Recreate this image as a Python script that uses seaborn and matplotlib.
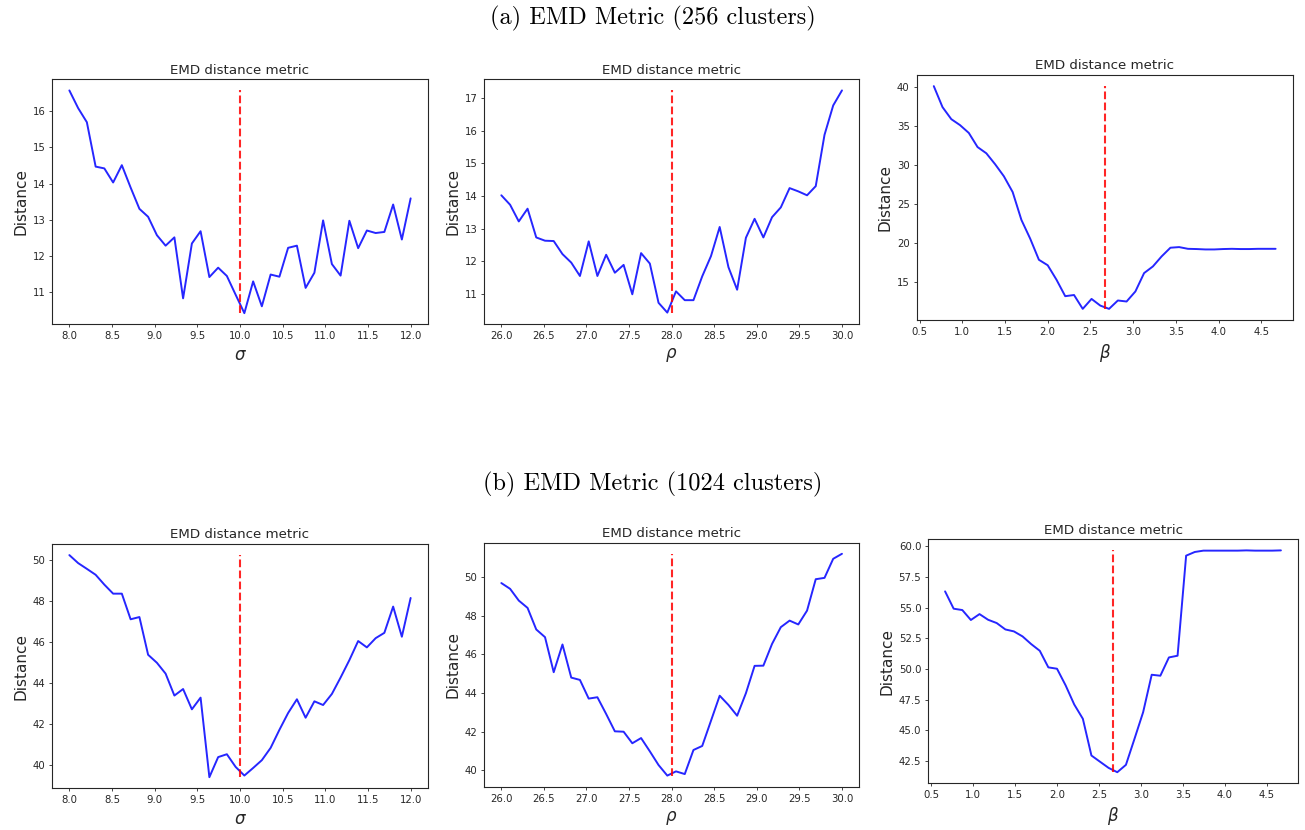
import matplotlib
matplotlib.use("Agg")
import matplotlib.pyplot as plt
import seaborn as sns
import numpy as np

# ---------------- data ----------------
sigma_vals = [8.000, 8.103, 8.205, 8.308, 8.410, 8.513, 8.615, 8.718, 8.821, 8.923,
              9.026, 9.128, 9.231, 9.333, 9.436, 9.538, 9.641, 9.744, 9.846, 9.949,
              10.051, 10.154, 10.256, 10.359, 10.462, 10.564, 10.667, 10.769, 10.872, 10.974,
              11.077, 11.179, 11.282, 11.385, 11.487, 11.590, 11.692, 11.795, 11.897, 12.000]
rho_vals = [26.000, 26.103, 26.205, 26.308, 26.410, 26.513, 26.615, 26.718, 26.821, 26.923,
            27.026, 27.128, 27.231, 27.333, 27.436, 27.538, 27.641, 27.744, 27.846, 27.949,
            28.051, 28.154, 28.256, 28.359, 28.462, 28.564, 28.667, 28.769, 28.872, 28.974,
            29.077, 29.179, 29.282, 29.385, 29.487, 29.590, 29.692, 29.795, 29.897, 30.000]
beta_vals = [0.667, 0.769, 0.872, 0.974, 1.077, 1.179, 1.282, 1.385, 1.487, 1.590,
             1.692, 1.795, 1.897, 2.000, 2.103, 2.205, 2.308, 2.410, 2.513, 2.615,
             2.718, 2.821, 2.923, 3.026, 3.128, 3.231, 3.333, 3.436, 3.538, 3.641,
             3.744, 3.846, 3.949, 4.051, 4.154, 4.256, 4.359, 4.462, 4.564, 4.667]

true_sigma = 10.0
true_rho = 28.0
true_beta = 2.667

# 256 clusters
emd256_sigma = [16.58, 16.09, 15.70, 14.47, 14.42, 14.03, 14.51, 13.89, 13.30, 13.08,
                12.57, 12.28, 12.51, 10.82, 12.34, 12.68, 11.41, 11.67, 11.44, 10.92,
                10.41, 11.29, 10.60, 11.48, 11.42, 12.22, 12.28, 11.11, 11.53, 12.98,
                11.77, 11.45, 12.97, 12.21, 12.70, 12.63, 12.66, 13.42, 12.45, 13.59]
emd256_rho = [14.02, 13.73, 13.22, 13.61, 12.73, 12.63, 12.62, 12.22, 11.96, 11.55,
              12.61, 11.55, 12.20, 11.65, 11.89, 10.99, 12.25, 11.93, 10.73, 10.43,
              11.08, 10.81, 10.81, 11.54, 12.16, 13.05, 11.82, 11.13, 12.72, 13.30,
              12.73, 13.35, 13.65, 14.24, 14.14, 14.02, 14.30, 15.87, 16.77, 17.23]
emd256_beta = [40.08, 37.40, 35.86, 35.10, 34.10, 32.30, 31.50, 30.10, 28.57, 26.55,
               23.00, 20.60, 17.90, 17.20, 15.35, 13.25, 13.40, 11.63, 12.90, 12.05,
               11.63, 12.70, 12.57, 13.85, 16.20, 17.05, 18.33, 19.44, 19.52, 19.30,
               19.27, 19.22, 19.22, 19.27, 19.30, 19.27, 19.27, 19.30, 19.30, 19.30]

# 1024 clusters
emd1024_sigma = [50.23, 49.84, 49.56, 49.27, 48.79, 48.35, 48.35, 47.10, 47.21, 45.37,
                 44.98, 44.45, 43.38, 43.70, 42.71, 43.28, 39.40, 40.38, 40.52, 39.90,
                 39.48, 39.85, 40.23, 40.83, 41.71, 42.53, 43.20, 42.30, 43.10, 42.92,
                 43.46, 44.26, 45.11, 46.04, 45.73, 46.18, 46.44, 47.72, 46.25, 48.14]
emd1024_rho = [49.71, 49.41, 48.80, 48.42, 47.30, 46.90, 45.08, 46.52, 44.80, 44.68,
               43.71, 43.78, 42.91, 42.01, 41.99, 41.39, 41.66, 40.97, 40.26, 39.71,
               39.93, 39.79, 41.04, 41.25, 42.56, 43.86, 43.38, 42.82, 43.99, 45.41,
               45.42, 46.55, 47.42, 47.76, 47.56, 48.28, 49.91, 49.98, 50.97, 51.23]
emd1024_beta = [56.33, 54.92, 54.81, 54.00, 54.48, 54.02, 53.75, 53.23, 53.07, 52.66,
                52.04, 51.49, 50.14, 50.03, 48.67, 47.12, 45.95, 42.96, 42.45, 41.95,
                41.60, 42.20, 44.32, 46.49, 49.54, 49.46, 50.95, 51.09, 59.24, 59.54,
                59.65, 59.65, 59.65, 59.65, 59.65, 59.67, 59.65, 59.65, 59.65, 59.67]

sigma_ticks = [8.0, 8.5, 9.0, 9.5, 10.0, 10.5, 11.0, 11.5, 12.0]
rho_ticks = [26.0, 26.5, 27.0, 27.5, 28.0, 28.5, 29.0, 29.5, 30.0]
beta_ticks = [0.5, 1.0, 1.5, 2.0, 2.5, 3.0, 3.5, 4.0, 4.5]

panel_title = "EMD distance metric"
y_label = "Distance"
row_titles = ["(a) EMD Metric (256 clusters)", "(b) EMD Metric (1024 clusters)"]

# ---------------- style ----------------
sns.set_theme(style="ticks")
plt.rcParams.update({
    "font.family": ["DejaVu Sans"],
    "mathtext.fontset": "dejavusans",
    "axes.edgecolor": "#262626",
    "axes.linewidth": 0.8,
    "xtick.labelsize": 7.3,
    "ytick.labelsize": 7.3,
    "xtick.major.size": 2.5,
    "ytick.major.size": 2.5,
    "xtick.major.width": 0.6,
    "ytick.major.width": 0.6,
    "xtick.major.pad": 2.5,
    "ytick.major.pad": 2.5,
    "text.color": "#262626",
    "xtick.color": "#262626",
    "ytick.color": "#262626",
})

W, H = 1305, 830
fig = plt.figure(figsize=(W / 100, H / 100), dpi=100)

# axes boxes in pixels: left, right, top, bottom
boxes = [
    (52.3, 427.7, 79.3, 324.3),
    (484.3, 859.0, 79.3, 323.7),
    (916.7, 1292.7, 75.0, 320.0),
    (52.3, 427.7, 544.0, 788.3),
    (484.3, 859.0, 542.7, 786.7),
    (928.3, 1297.7, 539.3, 783.3),
]

panels = [
    (sigma_vals, emd256_sigma, true_sigma, sigma_ticks, r"$\sigma$"),
    (rho_vals, emd256_rho, true_rho, rho_ticks, r"$\rho$"),
    (beta_vals, emd256_beta, true_beta, beta_ticks, r"$\beta$"),
    (sigma_vals, emd1024_sigma, true_sigma, sigma_ticks, r"$\sigma$"),
    (rho_vals, emd1024_rho, true_rho, rho_ticks, r"$\rho$"),
    (beta_vals, emd1024_beta, true_beta, beta_ticks, r"$\beta$"),
]

for (l, r, t, b), (xv, yv, tv, xt, xl) in zip(boxes, panels):
    ax = fig.add_axes([l / W, 1 - b / H, (r - l) / W, (b - t) / H])
    sns.lineplot(x=xv, y=yv, ax=ax, color="blue", alpha=0.85, linewidth=1.4)
    ax.vlines(tv, min(yv), max(yv), colors="red", linestyles="dashed",
              linewidth=1.5, alpha=0.85)
    ax.set_xticks(xt)
    ax.set_xticklabels([f"{v:.1f}" for v in xt])
    ax.set_title(panel_title, fontsize=9.6, pad=4)
    ax.set_ylabel(y_label, fontsize=11, labelpad=3)
    ax.set_xlabel(xl, fontsize=12, labelpad=3.5)
    for s in ax.spines.values():
        s.set_visible(True)

fig.text(0.5, 1 - 18 / H, row_titles[0], ha="center", va="center",
         fontsize=17.5, family="cmr10", color="black")
fig.text(0.5, 1 - 484 / H, row_titles[1], ha="center", va="center",
         fontsize=17.5, family="cmr10", color="black")

fig.savefig("out.png", dpi=100)
